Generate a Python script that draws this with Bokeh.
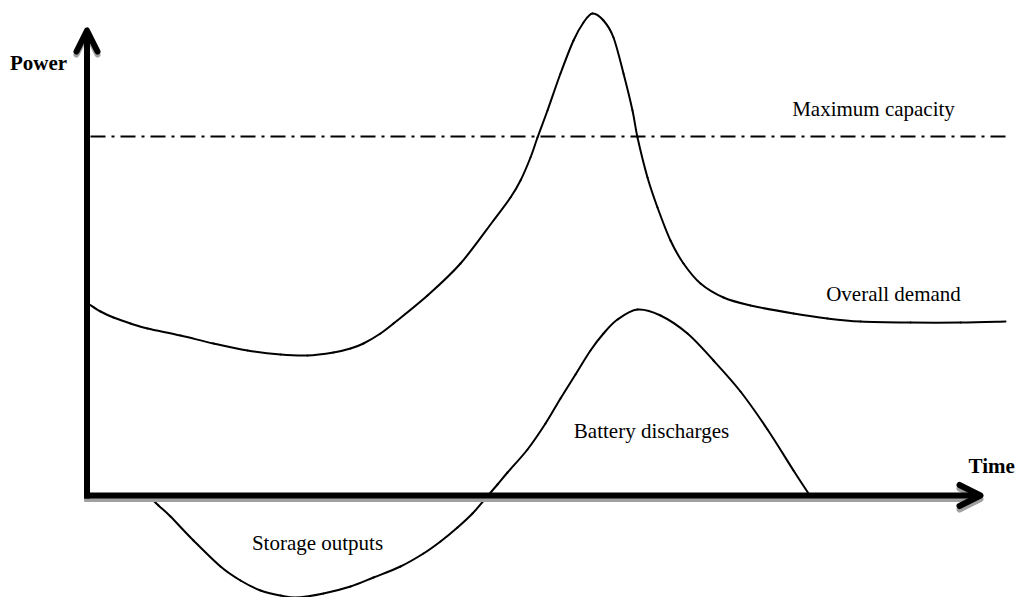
from bokeh.plotting import figure
from bokeh.models import Range1d, Arrow, OpenHead, Label
from bokeh.embed import file_html
from bokeh.resources import INLINE

# ---- data (time / power, schematic units) ----
demand_t = [2, 13, 26, 43, 60, 93, 126, 160, 193, 220, 246, 263, 276, 293, 306,
            340, 373, 406, 423, 433, 443, 450, 460, 473, 486, 496, 505,
            516, 526, 536, 545, 550, 560, 570, 583, 596, 613, 636, 663, 706,
            740, 773, 823, 873, 918]
demand_p = [191, 184, 178, 172, 167, 160, 152, 145, 141, 140, 143, 147, 152, 162, 172,
            200, 232, 275, 298, 315, 338, 358, 385, 422, 455, 473, 482,
            475, 458, 422, 385, 358, 318, 288, 255, 232, 212, 198, 190, 182,
            177, 174, 173, 173, 174]

storage_t = [63, 71, 83, 106, 133, 153, 173, 193, 210, 236, 263, 286, 313, 336, 353,
             370, 385, 398, 410, 420, 440, 458, 473, 488, 503, 516, 530, 550, 573, 600,
             626, 653, 680, 706, 721]
storage_p = [-2, -10, -21, -45, -71, -85, -95, -100, -102, -98, -91, -82, -71, -58, -46,
             -32, -18, -3, 11, 23, 46, 72, 97, 121, 145, 162, 176, 186, 180, 162,
             135, 104, 66, 25, 2]

capacity_level = 359
capacity_t = [3, 921]

axis_t_end = 893
axis_p_end = 465

labels = ["Power", "Time", "Maximum capacity", "Overall demand",
          "Battery discharges", "Storage outputs"]
label_t = [-49, 881, 786, 806, 564, 230]
label_p = [433, 30, 387, 202, 65, -47]

FONT = "Liberation Serif"

p = figure(width=1020, height=597, output_backend="svg", toolbar_location=None,
           x_range=Range1d(-87, 933), y_range=Range1d(-102, 495),
           min_border=0, outline_line_color=None)
p.axis.visible = False
p.grid.visible = False
p.background_fill_color = "white"
p.border_fill_color = "white"

# capacity line
p.line(capacity_t, [capacity_level, capacity_level], line_color="black",
       line_width=2, line_dash="15 6 3 6")


def smooth_curve(xs, ys):
    """Catmull-Rom through the read points, drawn as Bezier segments."""
    n = len(xs)
    seg = dict(x0=[], y0=[], x1=[], y1=[], cx0=[], cy0=[], cx1=[], cy1=[])
    for i in range(n - 1):
        i0 = max(i - 1, 0)
        i3 = min(i + 2, n - 1)
        seg["x0"].append(xs[i]); seg["y0"].append(ys[i])
        seg["x1"].append(xs[i + 1]); seg["y1"].append(ys[i + 1])
        seg["cx0"].append(xs[i] + (xs[i + 1] - xs[i0]) / 6)
        seg["cy0"].append(ys[i] + (ys[i + 1] - ys[i0]) / 6)
        seg["cx1"].append(xs[i + 1] - (xs[i3] - xs[i]) / 6)
        seg["cy1"].append(ys[i + 1] - (ys[i3] - ys[i]) / 6)
    p.bezier(line_color="black", line_width=2, line_cap="round", **seg)


smooth_curve(demand_t, demand_p)
smooth_curve(storage_t, storage_p)


# axes arrows (shadow first)
def add_arrow(x0, y0, x1, y1, color):
    head = OpenHead(size=21, line_width=6, line_color=color,
                    line_join="round", line_cap="round")
    p.add_layout(Arrow(end=head, x_start=x0, y_start=y0, x_end=x1, y_end=y1,
                       line_width=6, line_color=color))


add_arrow(-3, -3.5, axis_t_end, -3.5, "#a0a0a0")
add_arrow(-0.5, -6, -0.5, axis_p_end - 3, "#a0a0a0")
add_arrow(-3, 0, axis_t_end, 0, "black")
add_arrow(-0.5, -3, -0.5, axis_p_end, "black")

# texts
for i, txt in enumerate(labels):
    bold = txt in ("Power", "Time")
    align = "left" if txt == "Time" else "center"
    p.add_layout(Label(x=label_t[i], y=label_p[i], text=txt,
                       text_font=FONT, text_font_size="21px",
                       text_font_style="bold" if bold else "normal",
                       text_align=align, text_baseline="middle",
                       text_color="black"))

open("out.html", "w").write(file_html(p, INLINE))
